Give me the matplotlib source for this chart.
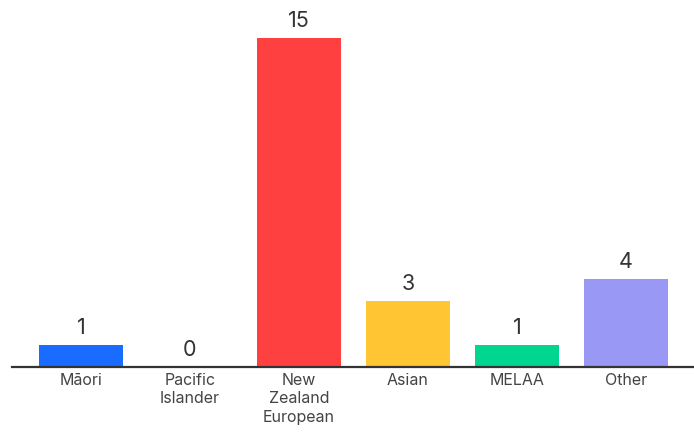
import matplotlib
matplotlib.use("Agg")
import matplotlib.pyplot as plt

# Ethnicity counts
categories = ["Māori", "Pacific\nIslander", "New\nZealand\nEuropean", "Asian", "MELAA", "Other"]
counts = [1, 0, 15, 3, 1, 4]
colors = ["#1a6bff", "#1a6bff", "#ff4040", "#ffc533", "#00d68f", "#9999f5"]

plt.rcParams['font.family'] = ['Inter', 'DejaVu Sans']

fig = plt.figure(figsize=(6.94, 4.33), dpi=100)
ax = fig.add_axes([12 / 694, 1 - 367 / 433, 1 - 12 / 694, 367 / 433])

x = range(len(categories))
bars = ax.bar(x, counts, width=0.77, color=colors, zorder=2)

for xi, v in zip(x, counts):
    ax.annotate(str(v), (xi, v), xytext=(0, 5), textcoords="offset points",
                ha="center", va="bottom", fontsize=15.5, color="#333333")

ax.set_xlim(-0.633, 5.624)
ax.set_ylim(0, 16.73)
ax.set_xticks(list(x))
ax.set_xticklabels(categories, fontsize=11.5, color="#444444", linespacing=1.3)
ax.tick_params(axis="x", length=0, pad=4)
ax.set_yticks([])
for side in ["top", "right", "left"]:
    ax.spines[side].set_visible(False)
ax.spines["bottom"].set_color("#333333")
ax.spines["bottom"].set_linewidth(1.6)
ax.spines["bottom"].set_zorder(3)

fig.savefig("out.png", dpi=100)
